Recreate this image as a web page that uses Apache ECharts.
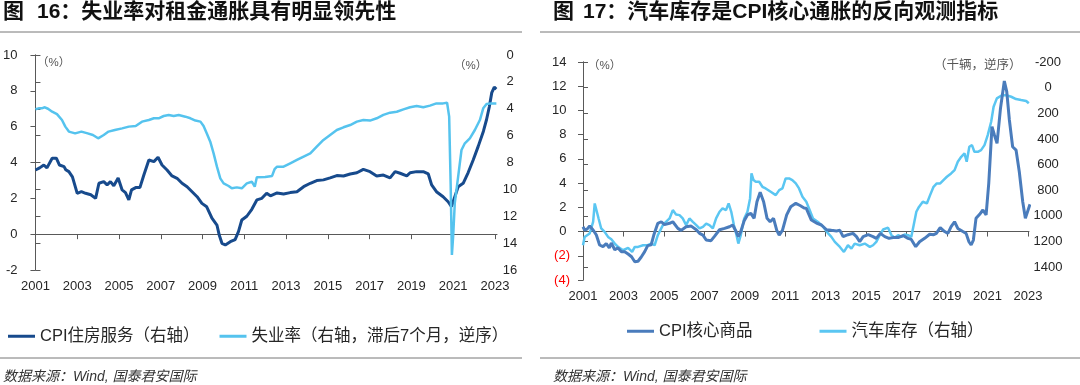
<!DOCTYPE html>
<html><head><meta charset="utf-8">
<script src="https://cdn.jsdelivr.net/npm/echarts@6/dist/echarts.min.js"></script>
<style>html,body{margin:0;padding:0;background:#fff}#c{width:1080px;height:385px}</style>
</head><body><div id="c"></div>
<script>
// ---------- DATA ----------
const BASE_YEAR = 2001;
const yearTicks = ['2001','2003','2005','2007','2009','2011','2013','2015','2017','2019','2021','2023'];
const leftTicks1 = [-2,0,2,4,6,8,10];
const rightTicks1 = [0,2,4,6,8,10,12,14,16];
const leftTicks2 = [-4,-2,0,2,4,6,8,10,12,14];
const rightTicks2 = [-200,0,200,400,600,800,1000,1200,1400];

// Chart 16: CPI housing services (%), [year, value]
const housingPts = [[2001.0,3.58],[2001.2,3.7],[2001.4,3.86],[2001.55,3.7],[2001.8,4.24],[2002.0,4.24],[2002.15,3.86],[2002.37,3.77],[2002.45,3.6],[2002.6,3.49],[2002.77,3.2],[2003.0,2.28],[2003.2,2.37],[2003.4,2.28],[2003.65,2.2],[2003.88,2.0],[2004.04,2.84],[2004.27,2.93],[2004.43,2.75],[2004.59,2.93],[2004.75,2.7],[2004.96,3.14],[2005.15,2.47],[2005.31,2.32],[2005.47,1.91],[2005.6,2.47],[2005.8,2.6],[2006.0,2.6],[2006.19,3.3],[2006.43,4.14],[2006.67,4.05],[2006.87,4.29],[2007.06,3.86],[2007.3,3.58],[2007.54,3.25],[2007.78,3.12],[2008.02,2.84],[2008.26,2.65],[2008.5,2.37],[2008.74,2.09],[2008.97,1.72],[2009.2,1.53],[2009.45,0.89],[2009.69,0.51],[2009.8,-0.05],[2009.93,-0.51],[2010.09,-0.6],[2010.33,-0.42],[2010.56,-0.3],[2010.72,0.14],[2010.88,0.79],[2011.12,1.0],[2011.36,1.39],[2011.6,1.91],[2011.84,2.0],[2012.07,2.28],[2012.25,2.14],[2012.57,2.3],[2012.88,2.24],[2013.2,2.32],[2013.52,2.37],[2013.84,2.65],[2014.16,2.84],[2014.47,2.99],[2014.79,3.03],[2015.11,3.14],[2015.43,3.27],[2015.75,3.25],[2016.07,3.36],[2016.39,3.43],[2016.7,3.62],[2017.02,3.49],[2017.34,3.25],[2017.66,3.3],[2017.98,3.14],[2018.22,3.49],[2018.46,3.4],[2018.78,3.25],[2018.94,3.43],[2019.25,3.49],[2019.57,3.49],[2019.81,3.36],[2019.97,2.75],[2020.2,2.37],[2020.52,2.09],[2020.76,1.81],[2020.92,1.54],[2021.08,2.09],[2021.24,2.65],[2021.48,2.84],[2021.72,3.44],[2021.96,4.14],[2022.2,4.9],[2022.45,5.75],[2022.6,6.4],[2022.73,7.1],[2022.85,7.9],[2022.97,8.2],[2023.07,8.1]];

// Chart 16: unemployment rate lagged 7m (%), [year, value], right axis inverted
const unempPts = [[2001.0,4.04],[2001.15,3.97],[2001.3,3.97],[2001.45,3.89],[2001.6,4.0],[2001.8,4.22],[2002.03,4.4],[2002.27,4.84],[2002.43,5.33],[2002.6,5.7],[2002.9,5.83],[2003.2,5.7],[2003.5,5.83],[2003.75,5.95],[2004.0,6.2],[2004.27,5.95],[2004.5,5.7],[2004.8,5.58],[2005.15,5.46],[2005.47,5.33],[2005.8,5.29],[2006.1,4.96],[2006.43,4.84],[2006.67,4.71],[2006.9,4.71],[2007.14,4.54],[2007.38,4.47],[2007.62,4.54],[2007.86,4.47],[2008.18,4.59],[2008.42,4.71],[2008.66,4.88],[2008.9,4.96],[2009.05,5.29],[2009.2,5.83],[2009.37,6.45],[2009.53,7.32],[2009.69,8.31],[2009.85,9.18],[2010.01,9.55],[2010.25,9.75],[2010.4,9.92],[2010.64,9.85],[2010.88,9.92],[2011.12,9.55],[2011.36,9.43],[2011.5,9.8],[2011.6,9.1],[2011.68,9.05],[2012.0,9.08],[2012.33,9.0],[2012.45,8.5],[2012.57,8.31],[2012.88,8.31],[2013.2,8.06],[2013.52,7.81],[2013.84,7.56],[2014.16,7.32],[2014.47,6.82],[2014.79,6.32],[2015.11,5.95],[2015.43,5.58],[2015.75,5.38],[2016.07,5.21],[2016.39,4.96],[2016.7,4.84],[2017.02,4.88],[2017.34,4.71],[2017.66,4.46],[2017.98,4.29],[2018.3,4.22],[2018.62,4.05],[2018.94,3.89],[2019.25,3.8],[2019.57,3.89],[2019.65,4.0],[2019.89,3.77],[2020.2,3.6],[2020.52,3.6],[2020.71,3.55],[2020.81,4.59],[2020.88,9.55],[2020.94,14.88],[2021.0,13.5],[2021.08,11.0],[2021.24,9.05],[2021.4,7.07],[2021.56,6.57],[2021.8,6.2],[2022.04,5.58],[2022.28,4.84],[2022.44,3.97],[2022.6,3.65],[2022.83,3.6],[2023.07,3.6]];

// Chart 17: CPI core goods (%), [year, value]
const coreGoodsPts = [[2001.0,0.4],[2001.08,0.13],[2001.2,0.2],[2001.33,0.45],[2001.5,0.13],[2001.66,-0.29],[2001.82,-1.11],[2001.99,-1.25],[2002.15,-1.0],[2002.3,-1.35],[2002.4,-0.95],[2002.57,-1.5],[2002.73,-1.35],[2002.9,-1.66],[2003.06,-1.66],[2003.23,-1.85],[2003.4,-2.08],[2003.56,-2.49],[2003.72,-2.45],[2003.88,-2.1],[2004.05,-1.66],[2004.2,-1.16],[2004.37,-1.1],[2004.5,-0.29],[2004.7,0.68],[2004.87,0.81],[2005.03,0.57],[2005.28,0.68],[2005.44,0.81],[2005.69,0.26],[2005.85,0.1],[2006.1,0.4],[2006.35,0.45],[2006.6,0.15],[2006.76,-0.15],[2006.93,-0.29],[2007.09,-0.7],[2007.33,-0.75],[2007.5,-0.4],[2007.75,0.15],[2008.0,0.26],[2008.24,0.4],[2008.4,0.54],[2008.57,0.0],[2008.68,-0.42],[2008.8,0.0],[2008.97,0.9],[2009.13,1.37],[2009.3,1.5],[2009.46,1.09],[2009.6,2.46],[2009.76,3.24],[2009.93,2.46],[2010.1,1.09],[2010.25,0.81],[2010.42,1.09],[2010.58,0.1],[2010.7,-0.29],[2010.86,0.1],[2011.07,1.37],[2011.27,2.05],[2011.52,2.33],[2011.73,2.15],[2011.93,1.95],[2012.04,1.92],[2012.29,0.95],[2012.54,0.7],[2012.79,0.54],[2013.04,0.15],[2013.28,0.1],[2013.53,0.05],[2013.7,0.1],[2013.86,-0.42],[2014.1,-0.26],[2014.35,-0.15],[2014.52,-0.42],[2014.68,-0.84],[2014.85,-0.42],[2015.1,-0.26],[2015.34,-0.42],[2015.5,-0.56],[2015.7,-0.15],[2015.92,-0.42],[2016.13,-0.56],[2016.33,-0.5],[2016.58,-0.5],[2016.82,-0.33],[2017.07,-0.56],[2017.23,-0.65],[2017.45,-1.25],[2017.64,-0.84],[2017.89,-0.56],[2018.14,-0.22],[2018.34,-0.26],[2018.47,-0.15],[2018.66,0.32],[2018.88,0.0],[2019.04,-0.15],[2019.2,0.4],[2019.37,0.81],[2019.53,0.26],[2019.78,0.0],[2019.94,-0.15],[2020.08,-0.84],[2020.19,-1.11],[2020.3,-0.7],[2020.43,1.09],[2020.6,1.4],[2020.77,1.78],[2020.93,1.37],[2021.06,3.98],[2021.22,8.66],[2021.34,7.97],[2021.47,7.28],[2021.64,10.17],[2021.83,12.43],[2021.95,11.55],[2022.08,9.21],[2022.24,7.0],[2022.41,6.73],[2022.57,4.94],[2022.74,2.46],[2022.87,1.09],[2023.03,1.9],[2023.1,2.25]];

// Chart 17: auto inventory (thousand units), [year, value], right axis inverted
const autoInvPts = [[2001.0,1229],[2001.08,1164],[2001.33,1137],[2001.5,1047],[2001.58,903],[2001.66,903],[2001.77,1020],[2001.9,1098],[2002.07,1125],[2002.24,1164],[2002.4,1182],[2002.57,1216],[2002.73,1242],[2002.98,1268],[2003.23,1250],[2003.43,1281],[2003.56,1242],[2003.72,1242],[2003.97,1229],[2004.2,1229],[2004.37,1216],[2004.54,1229],[2004.7,1150],[2004.95,1072],[2005.1,1047],[2005.28,1020],[2005.44,955],[2005.6,989],[2005.77,994],[2005.93,1020],[2006.1,1072],[2006.26,1020],[2006.43,1047],[2006.6,1072],[2006.76,1098],[2006.93,1085],[2007.09,1060],[2007.25,1072],[2007.42,1098],[2007.58,1020],[2007.75,968],[2007.9,942],[2008.07,955],[2008.2,903],[2008.33,968],[2008.46,1072],[2008.57,1137],[2008.68,1216],[2008.8,1150],[2008.97,1020],[2009.13,968],[2009.26,864],[2009.33,669],[2009.43,721],[2009.54,734],[2009.71,734],[2009.87,773],[2010.03,786],[2010.28,812],[2010.53,838],[2010.7,799],[2010.86,786],[2011.02,708],[2011.19,708],[2011.35,721],[2011.52,747],[2011.68,786],[2011.85,851],[2012.04,890],[2012.21,955],[2012.37,1020],[2012.62,1047],[2012.87,1085],[2013.12,1137],[2013.28,1164],[2013.45,1203],[2013.7,1242],[2013.9,1281],[2014.1,1229],[2014.27,1255],[2014.43,1216],[2014.68,1229],[2014.93,1216],[2015.18,1242],[2015.34,1229],[2015.5,1203],[2015.67,1150],[2015.84,1106],[2016.08,1092],[2016.25,1150],[2016.41,1171],[2016.58,1150],[2016.74,1164],[2016.9,1145],[2017.07,1150],[2017.23,1164],[2017.35,1072],[2017.48,968],[2017.61,930],[2017.8,890],[2018.0,903],[2018.16,838],[2018.33,773],[2018.49,747],[2018.66,747],[2018.82,721],[2018.99,695],[2019.2,669],[2019.37,643],[2019.53,578],[2019.7,539],[2019.86,513],[2019.97,578],[2020.1,461],[2020.23,448],[2020.35,500],[2020.52,500],[2020.68,487],[2020.85,448],[2021.01,370],[2021.18,266],[2021.3,149],[2021.46,84],[2021.67,63],[2021.92,58],[2022.17,71],[2022.41,89],[2022.66,97],[2022.91,104],[2023.04,122]];

const names = {
  housing: 'CPI住房服务（右轴）',
  unemp: '失业率（右轴，滞后7个月，逆序）',
  core: 'CPI核心商品',
  auto: '汽车库存（右轴）'
};

// ---------- STYLE ----------
const LAT = 'Liberation Sans, Arial, Noto Sans CJK SC, sans-serif';
const CJK = 'Liberation Sans, Noto Sans CJK SC, sans-serif';
const AX = '#595959';
const TXT = '#262626';
const C_DARK = '#174a8c';
const C_LIGHT = '#55c3ee';
const C_MID = '#4a7cbc';
const C_LIGHT2 = '#5ac6f2';

const toXY = pts => pts.map(p => [p[0] - BASE_YEAR, p[1]]);
const yearVals = yearTicks.map(t => Number(t) - BASE_YEAR);

function lineAxisX(grid, max, yIdx) {
  return {
    type: 'value', gridIndex: grid, min: 0, max: max, interval: 2, position: 'bottom',
    axisLine: { show: true, onZero: true, onZeroAxisIndex: yIdx, lineStyle: { color: AX, width: 1 } },
    axisTick: { show: true, inside: false, length: 5, customValues: yearVals, lineStyle: { color: AX, width: 1 } },
    axisLabel: { show: false }, splitLine: { show: false }
  };
}
function labelAxisX(grid, max, margin) {
  return {
    type: 'value', gridIndex: grid, min: 0, max: max, interval: 2, position: 'bottom',
    axisLine: { show: false, onZero: false }, axisTick: { show: false }, splitLine: { show: false },
    axisLabel: { show: true, margin: margin, customValues: yearVals, color: TXT, fontSize: 13, fontFamily: LAT,
      formatter: v => yearTicks[Math.round(v / 2)] || '' }
  };
}
function yAx(grid, pos, min, max, interval, ticks, extra) {
  const ax = {
    type: 'value', gridIndex: grid, position: pos, min: min, max: max, interval: interval,
    axisLine: { show: true, lineStyle: { color: AX, width: 1 } },
    axisTick: { show: true, inside: false, length: 5, customValues: ticks, lineStyle: { color: AX, width: 1 } },
    splitLine: { show: false },
    axisLabel: { color: TXT, fontSize: 13, fontFamily: LAT, customValues: ticks, formatter: v => String(v) }
  };
  if (extra) {
    if (extra.inverse) ax.inverse = true;
    Object.assign(ax.axisLabel, extra.label || {});
  }
  return ax;
}

const chart = echarts.init(document.getElementById('c'), null, { renderer: 'canvas' });

const option = {
  backgroundColor: '#ffffff',
  animation: false,
  grid: [
    { left: 33, top: 55, width: 464, height: 215, containLabel: false },
    { left: 583, top: 62, width: 446, height: 218, containLabel: false }
  ],
  xAxis: [
    lineAxisX(0, 22.1, 0),
    labelAxisX(0, 22.1, 10),
    lineAxisX(1, 22.05, 2),
    labelAxisX(1, 22.05, 10)
  ],
  yAxis: [
    yAx(0, 'left', -2, 10, 2, leftTicks1, { label: { margin: 18 } }),
    yAx(0, 'right', 0, 16, 2, rightTicks1, { inverse: true, label: { margin: 13, align: 'center' } }),
    yAx(1, 'left', -4, 14, 2, leftTicks2, { label: { margin: 13,
      formatter: v => v < 0 ? '(' + (-v) + ')' : v + ' ',
      color: v => (Number(v) < 0 ? '#ff0000' : TXT) } }),
    yAx(1, 'right', -200, 1500, 200, rightTicks2, { inverse: true, label: { margin: 19, align: 'center' } })
  ],
  legend: [
    { data: [names.housing, names.unemp], left: 3, top: 323, icon: 'rect', itemWidth: 27, itemHeight: 3, itemGap: 20,
      textStyle: { fontSize: 16.5, color: TXT, fontFamily: CJK } },
    { data: [names.core, names.auto], left: 622, top: 318, icon: 'rect', itemWidth: 27, itemHeight: 3, itemGap: 67,
      textStyle: { fontSize: 16.5, color: TXT, fontFamily: CJK } }
  ],
  series: [
    { name: names.housing, type: 'line', xAxisIndex: 0, yAxisIndex: 0, data: toXY(housingPts), showSymbol: false,
      lineStyle: { color: C_DARK, width: 3 }, itemStyle: { color: C_DARK }, z: 2 },
    { name: names.unemp, type: 'line', xAxisIndex: 0, yAxisIndex: 1, data: toXY(unempPts), showSymbol: false,
      lineStyle: { color: C_LIGHT, width: 2.5 }, itemStyle: { color: C_LIGHT }, z: 3 },
    { name: names.auto, type: 'line', xAxisIndex: 2, yAxisIndex: 3, data: toXY(autoInvPts), showSymbol: false,
      lineStyle: { color: C_LIGHT2, width: 2.5 }, itemStyle: { color: C_LIGHT2 }, z: 2 },
    { name: names.core, type: 'line', xAxisIndex: 2, yAxisIndex: 2, data: toXY(coreGoodsPts), showSymbol: false,
      lineStyle: { color: C_MID, width: 3 }, itemStyle: { color: C_MID }, z: 3 }
  ],
  graphic: [
    { type: 'text', left: 3, top: 2, style: { text: '图', font: 'bold 21px ' + CJK, fill: '#111' } },
    { type: 'text', left: 37, top: 2, style: { text: '16：失业率对租金通胀具有明显领先性', font: 'bold 21px ' + CJK, fill: '#111' } },
    { type: 'text', left: 553, top: 2, style: { text: '图', font: 'bold 21px ' + CJK, fill: '#111' } },
    { type: 'text', left: 583, top: 2, style: { text: '17：汽车库存是CPI核心通胀的反向观测指标', font: 'bold 21px ' + CJK, fill: '#111' } },
    { type: 'line', shape: { x1: 0, y1: 32, x2: 522, y2: 32 }, style: { stroke: '#777', lineWidth: 1 } },
    { type: 'line', shape: { x1: 540, y1: 32, x2: 1080, y2: 32 }, style: { stroke: '#777', lineWidth: 1 } },
    { type: 'line', shape: { x1: 0, y1: 358, x2: 522, y2: 358 }, style: { stroke: '#777', lineWidth: 1 } },
    { type: 'line', shape: { x1: 540, y1: 358, x2: 1080, y2: 358 }, style: { stroke: '#777', lineWidth: 1 } },
    { type: 'text', left: 3, top: 370, style: { text: '数据来源：Wind, 国泰君安国际', font: 'italic 14px ' + CJK, fill: '#333' } },
    { type: 'text', left: 553, top: 370, style: { text: '数据来源：Wind, 国泰君安国际', font: 'italic 14px ' + CJK, fill: '#333' } },
    { type: 'text', left: 37, top: 57, style: { text: '（%）', font: '11.5px ' + CJK, fill: '#555' } },
    { type: 'text', left: 454, top: 60, style: { text: '（%）', font: '11.5px ' + CJK, fill: '#555' } },
    { type: 'text', left: 588, top: 60, style: { text: '（%）', font: '11.5px ' + CJK, fill: '#555' } },
    { type: 'text', left: 934, top: 59, style: { text: '（千辆，逆序）', font: '12.5px ' + CJK, fill: '#555' } }
  ]
};
chart.setOption(option);
</script>
</body></html>
